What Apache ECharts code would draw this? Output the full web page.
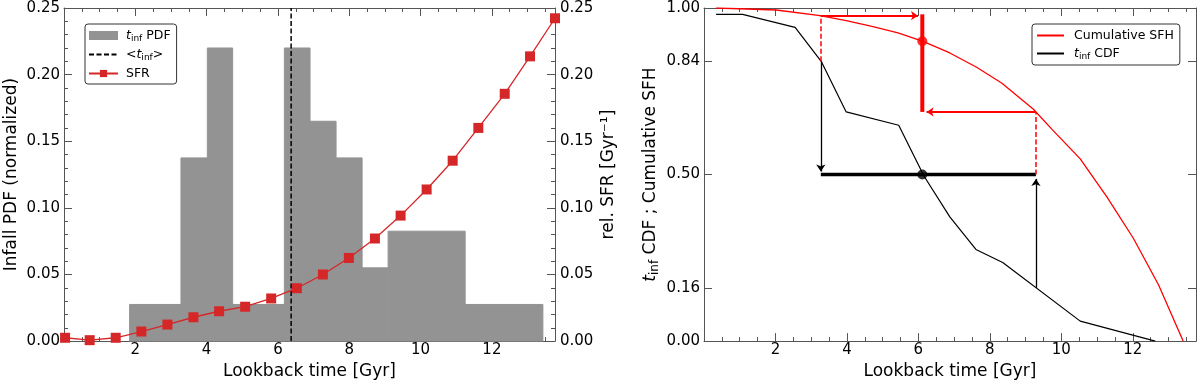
<!DOCTYPE html>
<html><head><meta charset="utf-8">
<script src="https://cdn.jsdelivr.net/npm/echarts@6/dist/echarts.min.js"></script>
<style>html,body{margin:0;padding:0;background:#fff}#c{width:1200px;height:385px}</style>
</head><body><div id="c"></div>
<script>
// ---------- Left panel data ----------
const histLeft  = [1.84, 3.28, 4.02, 4.73, 6.18, 6.90, 7.63, 8.36, 9.09, 11.25];
const histRight = [3.28, 4.02, 4.73, 6.18, 6.90, 7.63, 8.36, 9.09, 11.25, 13.43];
const histPdf   = [0.0275, 0.1375, 0.22, 0.0275, 0.22, 0.165, 0.1375, 0.055, 0.0825, 0.0275];
const meanTinf  = 6.37;
const sfrTime   = [0.03, 0.72, 1.45, 2.17, 2.90, 3.63, 4.35, 5.08, 5.81, 6.53, 7.26, 7.99, 8.72, 9.44, 10.17, 10.90, 11.62, 12.36, 13.07, 13.77];
const sfrValue  = [0.0025, 0.0007, 0.0025, 0.0072, 0.0124, 0.0179, 0.0224, 0.0258, 0.0320, 0.0397, 0.0500, 0.0624, 0.0770, 0.0942, 0.1138, 0.1354, 0.1600, 0.1856, 0.2137, 0.2423];

// ---------- Right panel data ----------
const sfhTime  = [0.34, 2.02, 3.25, 3.98, 4.73, 5.43, 6.13, 6.88, 7.63, 8.33, 9.22, 9.78, 10.53, 11.28, 12.02, 12.72, 13.41];
const sfhCum   = [1.000, 0.994, 0.977, 0.962, 0.944, 0.925, 0.900, 0.865, 0.822, 0.775, 0.696, 0.631, 0.547, 0.432, 0.308, 0.169, 0.0];
const cdfTime  = [0.34, 1.08, 2.55, 3.28, 3.98, 5.45, 6.16, 6.88, 7.61, 8.36, 10.53, 12.63];
const cdfValue = [0.981, 0.981, 0.942, 0.840, 0.688, 0.648, 0.495, 0.373, 0.275, 0.236, 0.060, 0.0];
const rightYTicks = [0, 0.16, 0.5, 0.84, 1.0];
// percentile construction: times where tinf CDF = 0.84 / 0.50 / 0.16
const pctTime  = [3.27, 6.11, 9.29];
const pctLevel = [0.84, 0.50, 0.16];
const sfhAtPct = [0.977, 0.900, 0.688];
const blackArrowTip = [0.509, 0.487];   // y of arrow tips (down, up)
const redArrowTip   = [5.99, 6.23];     // x of arrow tips (right, left)
const redBarTop = 0.981;

const FONT = 'DejaVu Sans';
const AX = '#555';
const XMAX = 13.77;

function xAxesFor(grid) {
  const base = {gridIndex: grid, type: 'value', min: 0, max: XMAX, splitLine: {show: false}};
  return [
    Object.assign({}, base, {
      position: 'bottom', interval: 2,
      axisLine: {show: true, onZero: false, lineStyle: {color: AX, width: 1}},
      axisTick: {show: true, inside: true, length: 8, lineStyle: {color: AX}},
      axisLabel: {show: true, color: '#000', fontFamily: FONT, fontSize: 15, margin: 2, showMinLabel: false, showMaxLabel: false},
      name: 'Lookback time [Gyr]', nameLocation: 'middle', nameGap: 20,
      nameTextStyle: {color: '#000', fontFamily: FONT, fontSize: 17, verticalAlign: 'top'}
    }),
    Object.assign({}, base, {
      position: 'bottom', interval: 0.5,
      axisLine: {show: false, onZero: false},
      axisTick: {show: true, inside: true, length: 4, lineStyle: {color: AX}},
      axisLabel: {show: false}
    }),
    Object.assign({}, base, {
      position: 'top', interval: 2,
      axisLine: {show: true, onZero: false, lineStyle: {color: AX, width: 1}},
      axisTick: {show: true, inside: true, length: 8, lineStyle: {color: AX}},
      axisLabel: {show: false}
    }),
    Object.assign({}, base, {
      position: 'top', interval: 0.5,
      axisLine: {show: false, onZero: false},
      axisTick: {show: true, inside: true, length: 4, lineStyle: {color: AX}},
      axisLabel: {show: false}
    })
  ];
}

function rich(fs, subFs) {
  return {
    it: {fontStyle: 'italic', fontFamily: FONT, fontSize: fs, color: '#000'},
    sub: {fontFamily: FONT, fontSize: subFs, padding: [Math.round(fs * 0.45), 0, 0, 0], color: '#000'},
    n: {fontFamily: FONT, fontSize: fs, color: '#000'}
  };
}

const leftY = {
  gridIndex: 0, type: 'value', min: 0, max: 0.25, interval: 0.05,
  splitLine: {show: false},
  axisLine: {show: true, onZero: false, lineStyle: {color: AX}},
  axisTick: {show: true, inside: true, length: 8, lineStyle: {color: AX}},
  minorTick: {show: true, splitNumber: 5, length: 4, lineStyle: {color: AX}},
  axisLabel: {color: '#000', fontFamily: FONT, fontSize: 15, margin: 4, formatter: v => v.toFixed(2)}
};

const hideSym = {color: 'rgba(0,0,0,0)', opacity: 0, borderWidth: 0};

const option = {
  animation: false,
  backgroundColor: '#fff',
  grid: [
    {left: 64, right: 645, top: 8, bottom: 42},
    {left: 704, right: 4, top: 8, bottom: 42}
  ],
  xAxis: [].concat(xAxesFor(0), xAxesFor(1)),
  yAxis: [
    Object.assign({}, leftY, {position: 'left', name: 'Infall PDF (normalized)', nameLocation: 'middle', nameGap: 44, nameRotate: 90,
      nameTextStyle: {color: '#000', fontFamily: FONT, fontSize: 17}}),
    Object.assign({}, leftY, {position: 'right', name: 'rel. SFR [Gyr\u207B\u00B9]', nameLocation: 'middle', nameGap: 45, nameRotate: 90,
      axisLabel: Object.assign({}, leftY.axisLabel, {margin: 5}),
      nameTextStyle: {color: '#000', fontFamily: FONT, fontSize: 17}}),
    {
      gridIndex: 1, type: 'value', min: 0, max: 1, position: 'left',
      splitLine: {show: false},
      axisLine: {show: true, onZero: false, lineStyle: {color: AX}},
      axisTick: {show: true, inside: true, length: 8, customValues: rightYTicks, lineStyle: {color: AX}},
      axisLabel: {color: '#000', fontFamily: FONT, fontSize: 15, margin: 4, customValues: rightYTicks, formatter: v => v.toFixed(2)},
      name: '{it|t}{sub|inf}{n| CDF ; Cumulative SFH}', nameLocation: 'middle', nameGap: 43, nameRotate: 90,
      nameTextStyle: {color: '#000', fontFamily: FONT, fontSize: 17, rich: rich(17, 12)}
    },
    {
      gridIndex: 1, type: 'value', min: 0, max: 1, position: 'right',
      splitLine: {show: false},
      axisLine: {show: true, onZero: false, lineStyle: {color: AX}},
      axisTick: {show: true, inside: true, length: 8, customValues: rightYTicks, lineStyle: {color: AX}},
      axisLabel: {show: false}
    }
  ],
  legend: [
    {
      left: 85, top: 24, orient: 'vertical',
      data: [{name: 'tinf PDF', icon: 'rect'}, {name: 'mean tinf', itemStyle: hideSym}, {name: 'SFR'}],
      borderColor: '#333', borderWidth: 1, borderRadius: 3, padding: [5, 6, 4, 3],
      itemGap: 5, itemWidth: 29, itemHeight: 9,
      selectedMode: false,
      textStyle: {fontFamily: FONT, fontSize: 12.5, color: '#000', padding: [0, 0, 0, 3], rich: rich(12.5, 9)},
      formatter: n => n === 'tinf PDF' ? '{it|t}{sub|inf}{n| PDF}' : (n === 'mean tinf' ? '{n|<}{it|t}{sub|inf}{n|>}' : '{n|SFR}')
    },
    {
      left: 1032, top: 24, orient: 'vertical',
      data: [{name: 'Cumulative SFH', itemStyle: hideSym}, {name: 'tinf CDF', itemStyle: hideSym}],
      borderColor: '#333', borderWidth: 1, borderRadius: 3, padding: [5, 6, 4, 4],
      itemGap: 5, itemWidth: 27, itemHeight: 9,
      selectedMode: false,
      textStyle: {fontFamily: FONT, fontSize: 12.5, color: '#000', padding: [0, 0, 0, 5], rich: rich(12.5, 9)},
      formatter: n => n === 'tinf CDF' ? '{it|t}{sub|inf}{n| CDF}' : '{n|Cumulative SFH}'
    }
  ],
  series: [
    {
      name: 'tinf PDF', type: 'custom', xAxisIndex: 0, yAxisIndex: 0, z: 1,
      itemStyle: {color: '#939393'},
      encode: {x: [0, 1], y: 2},
      data: histLeft.map((l, i) => [l, histRight[i], histPdf[i]]),
      renderItem: function (params, api) {
        const p0 = api.coord([api.value(0), api.value(2)]);
        const p1 = api.coord([api.value(1), 0]);
        return {type: 'rect', shape: {x: p0[0], y: p0[1], width: p1[0] - p0[0], height: p1[1] - p0[1]},
          style: {fill: '#939393', stroke: '#939393', lineWidth: 1}};
      }
    },
    {
      name: 'mean tinf', type: 'line', xAxisIndex: 0, yAxisIndex: 0, z: 3,
      symbol: 'none', data: [[meanTinf, 0], [meanTinf, 0.25]],
      lineStyle: {color: '#000', width: 1.5, type: [5, 2.5]}, itemStyle: {color: '#000'}
    },
    {
      name: 'SFR', type: 'line', xAxisIndex: 0, yAxisIndex: 1, z: 4,
      data: sfrTime.map((t, i) => [t, sfrValue[i]]),
      symbol: 'rect', symbolSize: 10,
      lineStyle: {color: '#d62728', width: 1.3}, itemStyle: {color: '#d62728'}
    },
    // right panel
    {
      name: 'Cumulative SFH', type: 'line', xAxisIndex: 4, yAxisIndex: 2, z: 3,
      data: sfhTime.map((t, i) => [t, sfhCum[i]]), symbol: 'none',
      lineStyle: {color: '#ff0000', width: 1.3}, itemStyle: {color: '#ff0000'}
    },
    {
      name: 'tinf CDF', type: 'line', xAxisIndex: 4, yAxisIndex: 2, z: 3,
      data: cdfTime.map((t, i) => [t, cdfValue[i]]), symbol: 'none',
      lineStyle: {color: '#000', width: 1.2}, itemStyle: {color: '#000'}
    },
    {
      name: 'range', type: 'line', xAxisIndex: 4, yAxisIndex: 2, z: 4,
      data: [[pctTime[0], pctLevel[1]], [pctTime[2], pctLevel[1]]], symbol: 'none',
      lineStyle: {color: '#000', width: 3.5},
      markLine: {
        silent: true, symbol: ['none', 'arrow'], symbolSize: 7, label: {show: false},
        lineStyle: {color: '#000', width: 1.3, type: 'solid'},
        emphasis: {disabled: true},
        data: [
          [{coord: [pctTime[0], pctLevel[0]]}, {coord: [pctTime[0], blackArrowTip[0]]}],
          [{coord: [pctTime[2], pctLevel[2]]}, {coord: [pctTime[2], blackArrowTip[1]]}]
        ]
      }
    },
    {
      name: 'redbar', type: 'line', xAxisIndex: 4, yAxisIndex: 2, z: 5,
      data: [[pctTime[1], redBarTop], [pctTime[1], sfhAtPct[2]]], symbol: 'none',
      lineStyle: {color: '#ff0000', width: 4},
      markLine: {
        silent: true, symbol: ['none', 'arrow'], symbolSize: 7, label: {show: false},
        lineStyle: {color: '#ff0000', width: 2, type: 'solid'},
        emphasis: {disabled: true},
        data: [
          [{coord: [pctTime[0], sfhAtPct[0]]}, {coord: [redArrowTip[0], sfhAtPct[0]]}],
          [{coord: [pctTime[2], sfhAtPct[2]]}, {coord: [redArrowTip[1], sfhAtPct[2]]}]
        ]
      }
    },
    {
      name: 'reddot', type: 'scatter', xAxisIndex: 4, yAxisIndex: 2, z: 6,
      data: [[pctTime[1], sfhAtPct[1]]], symbol: 'circle', symbolSize: 10,
      itemStyle: {color: '#ff0000'},
      markLine: {
        silent: true, symbol: ['none', 'none'], label: {show: false},
        lineStyle: {color: '#ff0000', width: 1.5, type: [5, 2.5]},
        emphasis: {disabled: true},
        data: [
          [{coord: [pctTime[0], pctLevel[0]]}, {coord: [pctTime[0], sfhAtPct[0]]}],
          [{coord: [pctTime[2], pctLevel[1]]}, {coord: [pctTime[2], sfhAtPct[2]]}]
        ]
      }
    },
    {
      name: 'blackdot', type: 'scatter', xAxisIndex: 4, yAxisIndex: 2, z: 6,
      data: [[pctTime[1], pctLevel[1]]], symbol: 'circle', symbolSize: 10,
      itemStyle: {color: '#000'}
    }
  ]
};
const chart = echarts.init(document.getElementById('c'));
chart.setOption(option);
</script>
</body></html>
